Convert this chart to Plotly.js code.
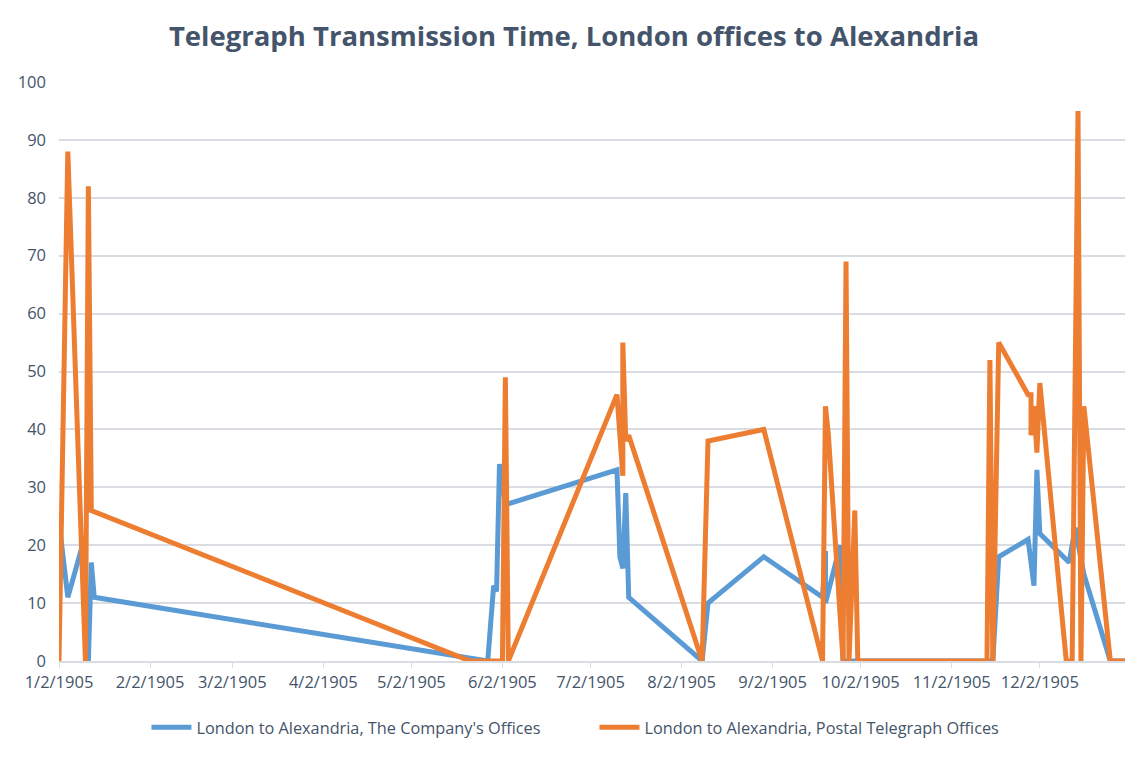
<!DOCTYPE html>
<html>
<head>
<meta charset="utf-8">
<script src="https://cdn.plot.ly/plotly-3.0.1.min.js"></script>
<style>
  html, body { margin: 0; padding: 0; background: #fff; }
  #chart { width: 1148px; height: 759px; }
</style>
</head>
<body>
<div id="chart"></div>
<script>
// London to Alexandria, The Company's Offices
var companyDates = [
  "1905-01-02", "1905-01-05", "1905-01-10", "1905-01-12", "1905-01-13", "1905-01-14",
  "1905-05-28", "1905-05-30", "1905-05-31", "1905-06-01", "1905-06-03",
  "1905-07-11", "1905-07-12", "1905-07-13", "1905-07-14", "1905-07-15",
  "1905-08-09", "1905-08-11", "1905-08-30",
  "1905-09-19", "1905-09-20", "1905-09-20", "1905-09-25", "1905-09-26",
  "1905-11-16", "1905-11-18", "1905-11-28", "1905-11-30", "1905-12-01", "1905-12-02",
  "1905-12-12", "1905-12-14", "1905-12-17", "1905-12-26", "1905-12-31"
];
var companyHours = [
  24, 11, 20, 0, 17, 11,
  0, 13, 12, 34, 27,
  33, 18, 16, 29, 11,
  0, 10, 18,
  11, 19, 10, 20, 0,
  0, 18, 21, 13, 33, 22,
  17, 23, 15, 0, 0
];

// London to Alexandria, Postal Telegraph Offices
var postalDates = [
  "1905-01-02", "1905-01-05", "1905-01-11", "1905-01-12", "1905-01-13",
  "1905-05-22", "1905-06-02", "1905-06-03", "1905-06-04",
  "1905-07-11", "1905-07-13", "1905-07-13", "1905-07-14", "1905-07-15",
  "1905-08-09", "1905-08-11", "1905-08-30",
  "1905-09-19", "1905-09-20", "1905-09-21", "1905-09-26", "1905-09-27", "1905-09-28",
  "1905-09-30", "1905-10-01",
  "1905-11-14", "1905-11-15", "1905-11-16", "1905-11-18", "1905-11-28", "1905-11-29",
  "1905-11-29", "1905-11-30", "1905-12-01", "1905-12-02",
  "1905-12-11", "1905-12-13", "1905-12-15", "1905-12-16", "1905-12-17", "1905-12-26",
  "1905-12-31"
];
var postalHours = [
  0, 88, 0, 82, 26,
  0, 0, 49, 0,
  46, 32, 55, 38, 39,
  0, 38, 40,
  0, 44, 39, 0, 69, 0,
  26, 0,
  0, 52, 0, 55, 46, 46,
  39, 44, 36, 48,
  0, 0, 95, 0, 44, 0,
  0
];

var tickDates = [
  "1905-01-02", "1905-02-02", "1905-03-02", "1905-04-02", "1905-05-02", "1905-06-02",
  "1905-07-02", "1905-08-02", "1905-09-02", "1905-10-02", "1905-11-02", "1905-12-02"
];
var tickLabels = [
  "1/2/1905", "2/2/1905", "3/2/1905", "4/2/1905", "5/2/1905", "6/2/1905",
  "7/2/1905", "8/2/1905", "9/2/1905", "10/2/1905", "11/2/1905", "12/2/1905"
];

var textColor = "#44546A";

var trace1 = {
  x: companyDates,
  y: companyHours,
  name: "London to Alexandria, The Company's Offices",
  type: "scatter",
  mode: "lines",
  line: { color: "#5B9BD5", width: 5 }
};

var trace2 = {
  x: postalDates,
  y: postalHours,
  name: "London to Alexandria, Postal Telegraph Offices",
  type: "scatter",
  mode: "lines",
  line: { color: "#ED7D31", width: 5 }
};

var data = [trace1, trace2];

var layout = {
  width: 1148,
  height: 759,
  paper_bgcolor: "#ffffff",
  plot_bgcolor: "#ffffff",
  font: { family: "Open Sans, sans-serif", color: textColor },
  title: {
    text: "<b>Telegraph Transmission Time, London offices to Alexandria</b>",
    font: { family: "Open Sans, sans-serif", size: 27.5, color: textColor },
    x: 0.5,
    xanchor: "center",
    y: 0.952,
    yanchor: "middle"
  },
  xaxis: {
    type: "date",
    range: ["1905-01-02", "1905-12-31"],
    tickvals: tickDates,
    ticktext: tickLabels,
    tickfont: { size: 16.5, color: textColor },
    showgrid: false,
    showline: true,
    linecolor: "#D9DDE3",
    linewidth: 1.5,
    ticks: "outside",
    ticklen: 5,
    tickcolor: "#D9DDE3",
    zeroline: false
  },
  yaxis: {
    range: [0, 100],
    dtick: 10,
    tickfont: { size: 16.5, color: textColor },
    showgrid: true,
    gridcolor: "#D9DDE3",
    gridwidth: 1.5,
    zeroline: false,
    ticks: "",
    ticklabelstandoff: 12
  },
  showlegend: true,
  legend: {
    orientation: "h",
    x: 0.5023,
    xanchor: "center",
    y: -0.115,
    yanchor: "middle",
    font: { size: 16.3, color: textColor },
    itemwidth: 40,
    entrywidth: 393
  },
  margin: { l: 59, r: 23, t: 82, b: 98 }
};

Plotly.newPlot("chart", data, layout, { displayModeBar: false });
</script>
</body>
</html>
